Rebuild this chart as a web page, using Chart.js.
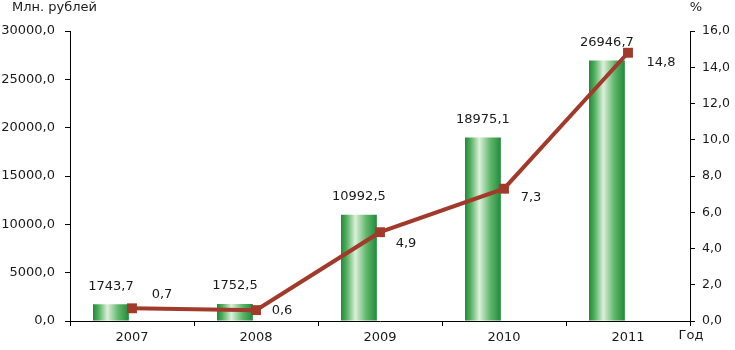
<!DOCTYPE html>
<html lang="ru">
<head>
<meta charset="UTF-8">
<title>Млн. рублей / %</title>
<script src="https://cdn.jsdelivr.net/npm/chart.js"></script>
<style>
  html, body { margin: 0; padding: 0; background: #fff; }
  #wrap { width: 735px; height: 350px; position: relative; }
</style>
</head>
<body>
<div id="wrap"><canvas id="chart"></canvas></div>
<script>
// data
const years = ['2007', '2008', '2009', '2010', '2011'];
const amounts = [1743.7, 1752.5, 10992.5, 18975.1, 26946.7];   // Млн. рублей
const shares = [0.7, 0.6, 4.9, 7.3, 14.8];                       // %
const leftTicks = [0, 5000, 10000, 15000, 20000, 25000, 30000];
const rightTicks = [0, 2, 4, 6, 8, 10, 12, 14, 16];

const FONT = 'DejaVu Sans';
const TXT = '#1a1a1a';
const LINE = '#a23a2b';
const CAT_PCT = 0.68, BAR_PCT = 0.85;

const fmt1 = v => v.toFixed(1).replace('.', ',');

// cylinder-like gradient for each green bar
function barFill(ctx) {
  const chart = ctx.chart;
  const xs = chart.scales.x;
  if (!xs || ctx.dataIndex === undefined || !isFinite(xs.width) || xs.width <= 0) return '#2f9a45';
  const cat = xs.width / years.length;
  const slot = cat * CAT_PCT / 2;
  const w = slot * BAR_PCT;
  const cx = xs.getPixelForValue(ctx.dataIndex) - slot / 2;
  if (!isFinite(cx)) return '#2f9a45';
  const g = chart.ctx.createLinearGradient(cx - w / 2, 0, cx + w / 2, 0);
  g.addColorStop(0, '#1f8a3b');
  g.addColorStop(0.15, '#4fae5c');
  g.addColorStop(0.4, '#dcf0da');
  g.addColorStop(0.7, '#62b86c');
  g.addColorStop(1, '#1f8a3b');
  return g;
}

const labelOffsets = [[30, -14], [26, 0], [26, 11], [27, 9], [33, 10]];

const textPlugin = {
  id: 'texts',
  afterDatasetsDraw(chart) {
    const c = chart.ctx;
    c.save();
    c.fillStyle = TXT;
    c.font = '13px "' + FONT + '"';
    c.textBaseline = 'middle';
    c.textAlign = 'center';
    // bar values
    chart.getDatasetMeta(0).data.forEach((el, i) => {
      c.fillText(fmt1(amounts[i]), el.x, el.y - 18);
    });
    // line values
    chart.getDatasetMeta(2).data.forEach((el, i) => {
      const o = labelOffsets[i];
      c.fillText(fmt1(shares[i]), el.x + o[0], el.y + o[1]);
    });
    // axis titles
    c.textAlign = 'left';
    c.fillText('Млн. рублей', 12, 8);
    c.textAlign = 'center';
    c.fillText('%', 696, 8);
    c.fillText('Год', 691, 336);
    c.restore();
  }
};

new Chart(document.getElementById('chart'), {
  data: {
    labels: years,
    datasets: [
      {
        type: 'bar',
        data: amounts,
        yAxisID: 'y',
        backgroundColor: barFill,
        categoryPercentage: CAT_PCT,
        barPercentage: BAR_PCT,
        order: 2
      },
      {
        type: 'bar',
        data: shares,
        yAxisID: 'y',
        backgroundColor: 'rgba(0,0,0,0)',
        categoryPercentage: CAT_PCT,
        barPercentage: BAR_PCT,
        order: 3
      },
      {
        type: 'line',
        data: shares,
        yAxisID: 'y1',
        borderColor: LINE,
        backgroundColor: LINE,
        borderWidth: 4,
        pointStyle: 'rect',
        pointRadius: 7,
        pointBorderWidth: 0,
        tension: 0,
        order: 1
      }
    ]
  },
  options: {
    responsive: true,
    maintainAspectRatio: false,
    animation: false,
    events: [],
    layout: { padding: { top: 31, left: 0, right: 0, bottom: 0 } },
    plugins: { legend: { display: false }, tooltip: { enabled: false } },
    scales: {
      x: {
        offset: true,
        grid: { offset: true, drawOnChartArea: false, tickLength: 5, color: '#000' },
        border: { color: '#000', width: 1 },
        ticks: { color: TXT, font: { family: FONT, size: 13 }, padding: 4 },
        afterFit: s => { s.height = 29; }
      },
      y: {
        position: 'left',
        min: 0, max: 30000,
        afterBuildTicks: s => { s.ticks = leftTicks.map(v => ({ value: v })); },
        grid: { drawOnChartArea: false, tickLength: 5, color: '#000' },
        border: { color: '#000', width: 1 },
        ticks: { color: TXT, font: { family: FONT, size: 13 }, padding: 10, callback: v => fmt1(v) },
        afterFit: s => { s.width = 70; }
      },
      y1: {
        position: 'right',
        min: 0, max: 16,
        afterBuildTicks: s => { s.ticks = rightTicks.map(v => ({ value: v })); },
        grid: { drawOnChartArea: false, tickLength: 5, color: '#000' },
        border: { color: '#000', width: 1 },
        ticks: { color: TXT, font: { family: FONT, size: 12.5 }, padding: 7, callback: v => fmt1(v) },
        afterFit: s => { s.width = 45; }
      }
    }
  },
  plugins: [textPlugin]
});
</script>
</body>
</html>
